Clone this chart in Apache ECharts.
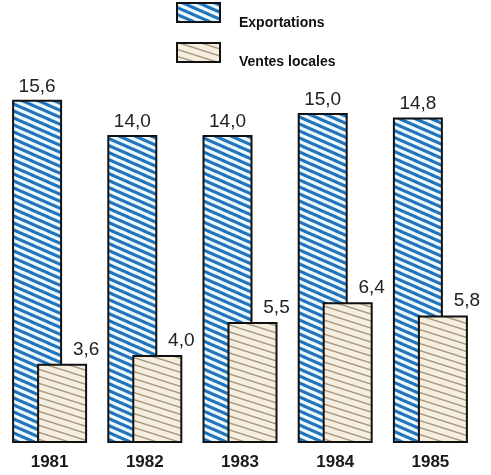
<!DOCTYPE html>
<html>
<head>
<meta charset="utf-8">
<script src="https://cdn.jsdelivr.net/npm/echarts@6/dist/echarts.min.js"></script>
<style>
html,body{margin:0;padding:0;background:#fff;}
#chart{width:491px;height:475px;}
</style>
</head>
<body>
<div id="chart"></div>
<script>
const years = ['1981', '1982', '1983', '1984', '1985'];
const exportations = [15.6, 14.0, 14.0, 15.0, 14.8];
const ventesLocales = [3.6, 4.0, 5.5, 6.4, 5.8];
const seriesNames = ['Exportations', 'Ventes locales'];

function stripes(w, h, bg, fg, lw) {
  const c = document.createElement('canvas');
  c.width = w; c.height = h;
  const g = c.getContext('2d');
  g.fillStyle = bg; g.fillRect(0, 0, w, h);
  g.strokeStyle = fg; g.lineWidth = lw;
  for (let k = -2; k <= 2; k++) {
    g.beginPath();
    g.moveTo(-w, -h + k * h);
    g.lineTo(2 * w, 2 * h + k * h);
    g.stroke();
  }
  return { image: c, repeat: 'repeat' };
}
const bluePat = stripes(16, 7, '#edf8fd', '#1f74bb', 3.0);
const tanPat = stripes(22, 7, '#f6eedf', '#a6977f', 1.4);

const fmt = p => String(p.value.toFixed(1)).replace('.', ',');

const legendFont = { fontFamily: 'Liberation Sans', fontSize: 14, fontWeight: 'bold', fill: '#111' };

const chart = echarts.init(document.getElementById('chart'));
chart.setOption({
  animation: false,
  backgroundColor: '#fff',
  graphic: [
    { type: 'rect', shape: { x: 177, y: 3, width: 43, height: 19 },
      style: { fill: bluePat, stroke: '#111', lineWidth: 2 } },
    { type: 'text', x: 239, y: 23,
      style: Object.assign({ text: seriesNames[0], verticalAlign: 'middle' }, legendFont) },
    { type: 'rect', shape: { x: 177, y: 43, width: 43, height: 19 },
      style: { fill: tanPat, stroke: '#111', lineWidth: 2 } },
    { type: 'text', x: 239, y: 62,
      style: Object.assign({ text: seriesNames[1], verticalAlign: 'middle' }, legendFont) }
  ],
  grid: { left: 2, right: 13, top: 91, bottom: 32 },
  xAxis: {
    type: 'category',
    data: years,
    axisLine: { show: false },
    axisTick: { show: false },
    axisLabel: { fontFamily: 'Liberation Sans', fontSize: 17, fontWeight: 'bold', color: '#1a1a1a', margin: 11 }
  },
  yAxis: { type: 'value', min: 0, max: 16, show: false },
  series: [
    {
      name: seriesNames[0],
      type: 'bar',
      data: exportations,
      barWidth: 50,
      barGap: '-50%',
      itemStyle: { color: bluePat, borderColor: '#111', borderWidth: 2 },
      label: { show: true, position: 'top', distance: 4, formatter: fmt,
        fontFamily: 'Liberation Sans', fontSize: 19, color: '#222' }
    },
    {
      name: seriesNames[1],
      type: 'bar',
      data: ventesLocales,
      barWidth: 50,
      barGap: '-50%',
      itemStyle: { color: tanPat, borderColor: '#111', borderWidth: 2 },
      label: { show: true, position: 'top', distance: 5, offset: [24, 0], formatter: fmt,
        fontFamily: 'Liberation Sans', fontSize: 19, color: '#222' }
    }
  ]
});
</script>
</body>
</html>
